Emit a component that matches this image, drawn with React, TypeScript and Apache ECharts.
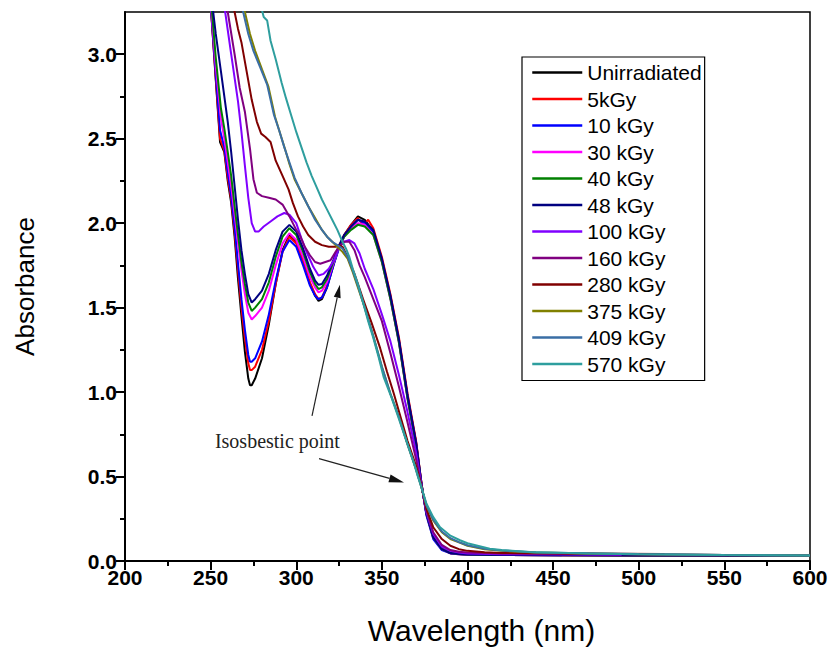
import React, { useEffect, useRef } from "react";
import * as echarts from "echarts";

// [wavelength (nm), absorbance]
const unirradiated = [[250,3.3],[253,2.85],[255.5,2.48],[258,2.42],[260,2.25],[262,2.12],[264,1.92],[266,1.67],[268,1.45],[270,1.24],[272,1.08],[273,1.04],[274,1.04],[276,1.08],[280,1.2],[284,1.4],[288,1.64],[292,1.84],[296,1.93],[300,1.89],[304,1.77],[308,1.64],[311,1.57],[313,1.54],[315,1.55],[318,1.62],[322,1.76],[325,1.86],[328,1.93],[332,1.99],[336,2.04],[340,2.02],[345,1.95],[350,1.78],[355,1.56],[360,1.3],[365,0.97],[370,0.7],[373,0.47],[374,0.4],[376,0.29],[380,0.15],[385,0.075],[390,0.05],[395,0.042],[400,0.04],[420,0.036],[460,0.034],[500,0.033],[550,0.032],[600,0.031]];
const kGy5 = [[250,3.3],[253,2.86],[255.5,2.5],[258,2.43],[260,2.27],[262,2.14],[264,1.95],[266,1.72],[268,1.5],[270,1.32],[272,1.17],[273,1.13],[274,1.13],[276,1.15],[280,1.25],[284,1.42],[288,1.64],[292,1.83],[296,1.92],[300,1.88],[304,1.77],[308,1.65],[311,1.58],[313,1.55],[315,1.56],[318,1.63],[322,1.77],[325,1.86],[328,1.93],[332,1.99],[336,2.03],[339,1.99],[342,2.02],[345,1.97],[350,1.8],[355,1.58],[360,1.32],[365,0.99],[370,0.71],[373,0.47],[374,0.4],[376,0.28],[380,0.14],[385,0.07],[390,0.045],[395,0.04],[400,0.038],[420,0.036],[460,0.034],[500,0.033],[550,0.032],[600,0.031]];
const kGy10 = [[250,3.3],[253,2.88],[255.5,2.55],[258,2.45],[260,2.3],[262,2.16],[264,1.98],[266,1.76],[268,1.55],[270,1.37],[272,1.22],[273,1.18],[274,1.18],[276,1.2],[280,1.3],[284,1.46],[288,1.66],[292,1.83],[296,1.9],[300,1.86],[304,1.75],[308,1.63],[311,1.57],[313,1.55],[315,1.56],[318,1.62],[322,1.76],[325,1.85],[328,1.92],[332,1.98],[336,2.02],[340,2.0],[345,1.95],[350,1.78],[355,1.56],[360,1.3],[365,0.97],[370,0.69],[373,0.46],[374,0.4],[376,0.27],[380,0.13],[385,0.065],[390,0.045],[395,0.04],[400,0.038],[420,0.036],[455,0.034]];
const kGy30 = [[250,3.32],[253,2.93],[256,2.62],[258,2.5],[260,2.36],[262,2.22],[264,2.05],[266,1.88],[268,1.72],[270,1.58],[272,1.47],[274,1.43],[276,1.45],[280,1.5],[284,1.6],[288,1.75],[292,1.88],[296,1.94],[300,1.9],[304,1.8],[308,1.68],[311,1.62],[313,1.59],[315,1.6],[318,1.65],[322,1.77],[325,1.86],[328,1.92],[332,1.97],[336,2.0],[340,1.99],[345,1.93],[350,1.77],[355,1.55],[360,1.29],[365,0.96],[370,0.68],[373,0.46],[374,0.4],[376,0.28],[380,0.14],[385,0.07],[390,0.047],[395,0.041],[400,0.039],[420,0.036],[460,0.034],[500,0.033],[550,0.032],[600,0.031]];
const kGy40 = [[250,3.35],[253,2.98],[256,2.68],[258,2.56],[260,2.42],[262,2.28],[264,2.1],[266,1.93],[268,1.77],[270,1.64],[272,1.53],[274,1.48],[276,1.5],[280,1.55],[284,1.65],[288,1.8],[292,1.92],[296,1.97],[300,1.93],[304,1.83],[308,1.71],[311,1.64],[313,1.61],[315,1.62],[318,1.67],[322,1.78],[325,1.86],[328,1.92],[332,1.96],[336,1.99],[340,1.98],[345,1.93],[350,1.77],[355,1.55],[360,1.29],[365,0.96],[370,0.68],[373,0.46],[374,0.4],[376,0.28],[380,0.14],[385,0.07],[390,0.047],[395,0.041],[400,0.039],[420,0.036],[460,0.034],[500,0.033],[550,0.032],[600,0.031]];
const kGy48 = [[250,3.38],[253,3.12],[256,2.9],[258,2.75],[260,2.6],[262,2.42],[264,2.22],[266,2.02],[268,1.84],[270,1.7],[272,1.58],[274,1.53],[276,1.55],[280,1.6],[284,1.7],[288,1.84],[292,1.95],[296,1.99],[300,1.95],[304,1.85],[308,1.73],[311,1.66],[313,1.635],[315,1.64],[318,1.69],[322,1.79],[325,1.87],[328,1.93],[332,1.98],[336,2.02],[340,2.01],[345,1.96],[350,1.79],[355,1.57],[360,1.31],[365,0.98],[370,0.7],[373,0.47],[374,0.4],[376,0.28],[380,0.14],[385,0.07],[390,0.047],[395,0.041],[400,0.039],[420,0.036],[460,0.034],[500,0.033],[550,0.032],[600,0.031]];
const kGy100 = [[256,3.4],[258.5,3.25],[262,3.0],[266,2.72],[268,2.54],[270,2.34],[272,2.15],[274,2.0],[276,1.95],[278,1.95],[281,1.98],[285,2.01],[289,2.04],[293,2.06],[296,2.05],[300,2.0],[303,1.91],[306,1.83],[310,1.74],[313,1.69],[316,1.7],[319,1.73],[322,1.78],[325,1.86],[328,1.89],[331,1.9],[334,1.88],[337,1.82],[340,1.73],[345,1.61],[350,1.46],[355,1.3],[360,1.1],[365,0.88],[370,0.64],[373,0.46],[374,0.4],[376,0.29],[380,0.16],[385,0.085],[390,0.06],[395,0.05],[400,0.045],[420,0.04],[460,0.038],[490,0.037]];
const kGy160 = [[258,3.4],[260,3.25],[264,3.0],[267,2.8],[270,2.66],[273,2.44],[275,2.26],[277,2.18],[280,2.16],[284,2.15],[288,2.14],[292,2.11],[296,2.04],[300,1.96],[302,1.93],[305,1.86],[308,1.81],[311,1.77],[314,1.76],[317,1.77],[320,1.78],[323,1.83],[325,1.86],[328,1.89],[331,1.89],[334,1.84],[337,1.75],[340,1.68],[345,1.55],[350,1.42],[355,1.23],[360,1.03],[365,0.82],[370,0.6],[373,0.45],[374,0.4],[376,0.3],[380,0.17],[385,0.095],[390,0.065],[395,0.055],[400,0.05],[420,0.045],[460,0.042],[500,0.04],[550,0.036],[600,0.033]];
const kGy280 = [[262,3.4],[264,3.25],[266,3.15],[268,3.07],[271,2.9],[274,2.73],[277,2.6],[279.5,2.53],[282,2.51],[285,2.48],[288,2.37],[292,2.28],[295.5,2.2],[298,2.12],[301,2.04],[304,1.98],[307,1.93],[311,1.89],[315,1.87],[319,1.86],[323,1.86],[325,1.87],[327,1.86],[330,1.8],[334,1.7],[339,1.55],[344,1.41],[349,1.26],[353,1.12],[357,0.99],[361,0.85],[365,0.71],[370,0.56],[373,0.45],[374,0.4],[376,0.31],[380,0.2],[385,0.13],[390,0.09],[395,0.07],[400,0.06],[410,0.052],[420,0.048],[460,0.045],[515,0.042]];
const kGy375 = [[268,3.4],[270,3.25],[273,3.12],[276,3.02],[280,2.91],[283.7,2.81],[287.6,2.63],[290,2.55],[293.4,2.44],[296,2.35],[299,2.26],[303,2.18],[307,2.1],[311,2.03],[315,1.96],[318,1.92],[321,1.89],[324,1.86],[327,1.83],[330,1.79],[333,1.71],[336,1.62],[340,1.5],[345,1.33],[350,1.15],[355,0.99],[360,0.85],[365,0.69],[370,0.54],[373,0.44],[376,0.33],[380,0.24],[385,0.17],[390,0.13],[395,0.11],[400,0.09],[410,0.07],[420,0.06],[440,0.05],[470,0.045],[500,0.04],[550,0.035],[600,0.032]];
const kGy409 = [[267,3.4],[269,3.25],[272,3.12],[275,3.02],[279,2.92],[283,2.82],[287,2.64],[290,2.55],[293,2.45],[296,2.36],[299,2.27],[303,2.18],[307,2.1],[311,2.02],[315,1.96],[318,1.92],[321,1.89],[324,1.87],[327,1.85],[330,1.8],[333,1.72],[336,1.63],[340,1.5],[345,1.33],[350,1.15],[355,0.99],[360,0.85],[365,0.69],[370,0.54],[373,0.44],[376,0.33],[380,0.245],[385,0.175],[390,0.135],[395,0.112],[400,0.093],[410,0.072],[420,0.062],[440,0.051],[470,0.046],[500,0.041],[550,0.036],[600,0.033]];
const kGy570 = [[276,3.45],[279,3.3],[281,3.22],[283,3.2],[285,3.08],[288,2.97],[291.5,2.83],[294,2.74],[297.3,2.63],[300,2.54],[303,2.45],[306,2.36],[309,2.28],[312,2.21],[315,2.14],[318,2.08],[321,2.02],[324,1.96],[327,1.89],[329,1.85],[331,1.8],[333,1.73],[336,1.64],[339,1.53],[342,1.42],[345,1.32],[348,1.21],[351,1.09],[355.7,0.965],[360,0.84],[365,0.69],[368.4,0.59],[371,0.5],[373,0.44],[376,0.34],[380,0.26],[384,0.2],[390,0.15],[395.6,0.123],[400,0.105],[413,0.072],[420,0.065],[436.5,0.053],[470,0.045],[500,0.04],[550,0.035],[600,0.033]];

const seriesNames = ["Unirradiated","5kGy","10 kGy","30 kGy","40 kGy","48 kGy","100 kGy","160 kGy","280 kGy","375 kGy","409 kGy","570 kGy"];
const seriesData = [unirradiated,kGy5,kGy10,kGy30,kGy40,kGy48,kGy100,kGy160,kGy280,kGy375,kGy409,kGy570];
const seriesColors = ["#000000","#ff0000","#0000ff","#ff00ff","#008000","#000080","#8000ff","#800080","#800000","#808000","#3a6ea5","#2e9e9e"];

const yMajorTicks = [0,0.5,1.0,1.5,2.0,2.5,3.0];
const yMinorTicks = [0.25,0.75,1.25,1.75,2.25,2.75];

const FONT = "'Liberation Sans', Arial, sans-serif";

export default function App() {
  const ref = useRef<HTMLDivElement>(null);
  useEffect(() => {
    if (!ref.current) return;
    const chart = echarts.init(ref.current, undefined, { renderer: "svg" });
    chart.setOption({
      animation: false,
      backgroundColor: "#fff",
      grid: { left: 125, right: 21, top: 12, bottom: 86, show: true, borderColor: "#000", borderWidth: 1.5, backgroundColor: "transparent" },
      legend: {
        orient: "vertical", left: 522, top: 57, padding: [5, 3, 6, 9],
        itemWidth: 50, itemHeight: 14, itemGap: 5.5,
        borderColor: "#000", borderWidth: 1.2,
        itemStyle: { opacity: 0 },
        lineStyle: { width: 2.5 },
        textStyle: { fontSize: 21, color: "#000", fontFamily: FONT, lineHeight: 20 },
        data: seriesNames,
      },
      xAxis: {
        type: "value", min: 200, max: 600, interval: 50,
        name: "Wavelength (nm)", nameLocation: "middle", nameGap: 54,
        nameTextStyle: { fontSize: 30, color: "#000", fontFamily: FONT, padding: [0, 0, 0, 28] },
        axisLine: { show: true, lineStyle: { color: "#000", width: 2 } },
        axisTick: { show: true, length: 9, lineStyle: { color: "#000", width: 2 } },
        minorTick: { show: true, splitNumber: 2, length: 5, lineStyle: { color: "#000", width: 2 } },
        splitLine: { show: false },
        axisLabel: { fontSize: 21, fontWeight: "bold", color: "#000", fontFamily: FONT, margin: 6 },
      },
      yAxis: [
        {
          type: "value", min: 0, max: 3.25, interval: 0.5,
          name: "Absorbance", nameLocation: "middle", nameGap: 87,
          nameTextStyle: { fontSize: 26, color: "#000", fontFamily: FONT },
          axisLine: { show: true, lineStyle: { color: "#000", width: 2 } },
          axisTick: { show: true, length: 9, customValues: yMajorTicks, lineStyle: { color: "#000", width: 2 } },
          splitLine: { show: false },
          axisLabel: { fontSize: 21, fontWeight: "bold", color: "#000", fontFamily: FONT, margin: 8, customValues: yMajorTicks, formatter: (v: number) => v.toFixed(1) },
        },
        {
          type: "value", min: 0, max: 3.25, position: "left",
          axisLine: { show: false },
          axisTick: { show: true, length: 5, customValues: yMinorTicks, lineStyle: { color: "#000", width: 2 } },
          axisLabel: { show: false },
          splitLine: { show: false },
        },
      ],
      series: seriesNames.map((name, i) => ({
        name, type: "line", data: seriesData[i], symbol: "none", smooth: false,
        lineStyle: { color: seriesColors[i], width: 2 }, itemStyle: { color: seriesColors[i] },
        clip: true, z: 2 + i,
      })),
    });

    const px = (x: number, y: number) => chart.convertToPixel({ gridIndex: 0 }, [x, y]) as number[];
    const arrow = (tail: number[], tip: number[], headLen: number, headW: number) => {
      const dx = tip[0] - tail[0], dy = tip[1] - tail[1];
      const L = Math.hypot(dx, dy);
      const ux = dx / L, uy = dy / L;
      const bx = tip[0] - ux * headLen, by = tip[1] - uy * headLen;
      const nx = -uy, ny = ux;
      return [
        { type: "line", shape: { x1: tail[0], y1: tail[1], x2: bx, y2: by }, style: { stroke: "#222", lineWidth: 1.2 }, z: 100 },
        { type: "polygon", shape: { points: [[tip[0], tip[1]], [bx + nx * headW / 2, by + ny * headW / 2], [bx - nx * headW / 2, by - ny * headW / 2]] }, style: { fill: "#111" }, z: 100 },
      ];
    };
    const textPos = px(252.5, 0.712);
    chart.setOption({
      graphic: [
        { type: "text", x: textPos[0], y: textPos[1], z: 100, style: { text: "Isosbestic point", fontSize: 20, fontFamily: "'Liberation Serif', 'Times New Roman', serif", fill: "#222", verticalAlign: "middle", align: "left" } },
        ...arrow(px(309.2, 0.859), px(325.5, 1.635), 13, 7),
        ...arrow(px(313.3, 0.606), px(362.9, 0.465), 15, 8),
      ],
    });
    return () => chart.dispose();
  }, []);
  return <div ref={ref} style={{ position: "absolute", left: 0, top: 0, width: 831, height: 650 }} />;
}
